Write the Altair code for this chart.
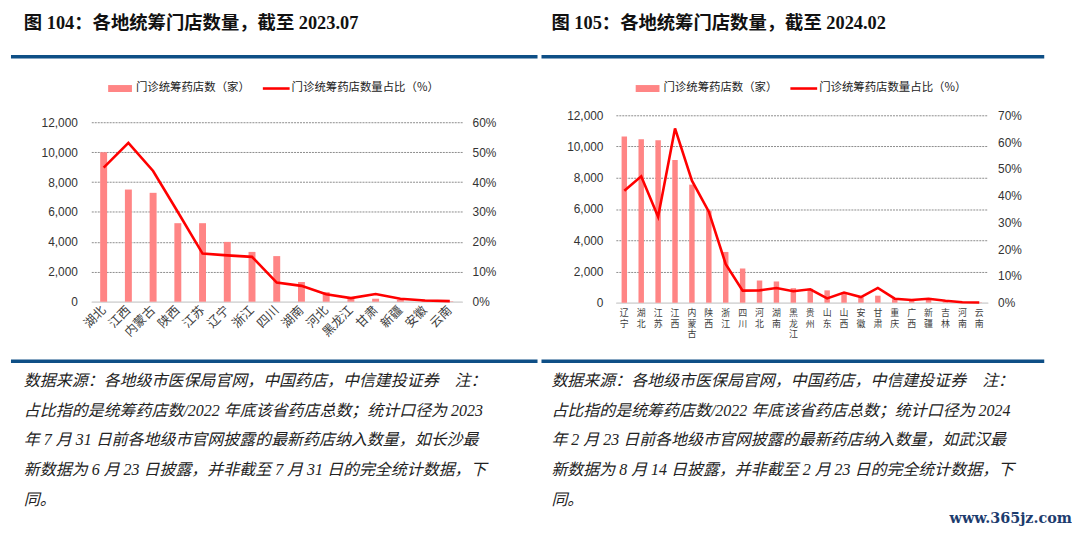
import altair as alt
import pandas as pd

# ---------------- data ----------------
cats1 = ["湖北", "江西", "内蒙古", "陕西", "江苏", "辽宁", "浙江", "四川", "湖南", "河北",
         "黑龙江", "甘肃", "新疆", "安徽", "云南"]
stores1 = [10000, 7500, 7280, 5250, 5250, 4000, 3330, 3050, 1320, 640, 290, 200, 130, 50, 30]
share1 = [0.448, 0.531, 0.437, 0.300, 0.161, 0.155, 0.150, 0.064, 0.053, 0.025, 0.012, 0.026,
          0.010, 0.004, 0.002]

cats2 = ["辽宁", "湖北", "江苏", "江西", "内蒙古", "陕西", "浙江", "四川", "河北", "湖南", "黑龙江",
         "贵州", "山东", "山西", "安徽", "甘肃", "重庆", "广西", "新疆", "吉林", "河南", "云南"]
stores2 = [10640, 10470, 10400, 9130, 7560, 5900, 3250, 2190, 1420, 1360, 930, 890, 790, 680,
           350, 450, 230, 150, 200, 60, 30, 20]
share2 = [0.418, 0.472, 0.321, 0.651, 0.456, 0.340, 0.144, 0.045, 0.046, 0.055, 0.043, 0.050,
          0.016, 0.038, 0.021, 0.055, 0.015, 0.010, 0.015, 0.007, 0.002, 0.001]

left_ticks = [0, 2000, 4000, 6000, 8000, 10000, 12000]
right_ticks1 = [0, 0.1, 0.2, 0.3, 0.4, 0.5, 0.6]
right_ticks2 = [0, 0.1, 0.2, 0.3, 0.4, 0.5, 0.6, 0.7]

title1 = "图 104：各地统筹门店数量，截至 2023.07"
title2 = "图 105：各地统筹门店数量，截至 2024.02"
legend_bar = "门诊统筹药店数（家）"
legend_line = "门诊统筹药店数量占比（%）"

notes1 = [
    "数据来源：各地级市医保局官网，中国药店，中信建投证券　注：",
    "占比指的是统筹药店数/2022 年底该省药店总数；统计口径为 2023",
    "年 7 月 31 日前各地级市官网披露的最新药店纳入数量，如长沙最",
    "新数据为 6 月 23 日披露，并非截至 7 月 31 日的完全统计数据，下",
    "同。",
]
notes2 = [
    "数据来源：各地级市医保局官网，中国药店，中信建投证券　注：",
    "占比指的是统筹药店数/2022 年底该省药店总数；统计口径为 2024",
    "年 2 月 23 日前各地级市官网披露的最新药店纳入数量，如武汉最",
    "新数据为 8 月 14 日披露，并非截至 2 月 23 日的完全统计数据，下",
    "同。",
]
watermark = "www.365jz.com"

# ---------------- styles ----------------
BAR = "#ff8585"
LINE = "#ff0000"
BLUE = "#0e4f86"
SERIF = "Liberation Serif, Noto Sans CJK SC"
SANS = "Liberation Sans, Arial"
CJK = "Noto Sans CJK SC"

one = pd.DataFrame({"k": [0]})


def txt(s, x, y, size, align="left", **kw):
    return alt.Chart(one).mark_text(text=s, fontSize=size, align=align, baseline="middle", **kw).encode(
        x=alt.value(x), y=alt.value(y))


def hrule(x1, x2, y, color, width):
    return alt.Chart(one).mark_rule(color=color, strokeWidth=width).encode(
        x=alt.value(x1), x2=alt.value(x2), y=alt.value(y))


grid_color = {"condition": {"test": "datum.value === 0", "value": "#d9d9d9"}, "value": "#6f6f6f"}
grid_dash = {"condition": {"test": "datum.value === 0", "value": [1, 0]}, "value": [2, 1]}
grid_width = {"condition": {"test": "datum.value === 0", "value": 1.5}, "value": 0.8}

H = 188  # common plot height (both panels share the same plot top)


def panel(cats, stores, share, w, h, ymax, pmax, rticks, title, notes, xaxis, bar_size,
          line_x1, line_x2, leg_x, note_x, lpad, rpad, extra=None):
    df = pd.DataFrame({"cat": cats, "stores": stores, "share": share})
    xenc = alt.X("cat:N", sort=cats, title=None,
                 scale=alt.Scale(paddingInner=0, paddingOuter=0), axis=xaxis)
    bars = alt.Chart(df).mark_bar(color=BAR, size=bar_size).encode(
        x=xenc,
        y=alt.Y("stores:Q", title=None, scale=alt.Scale(domain=[0, ymax]),
                axis=alt.Axis(orient="left", values=left_ticks, format=",.0f", domain=False,
                              ticks=False, labelPadding=lpad, labelFont=SANS, labelFontSize=12,
                              labelColor="#333333", grid=True, gridColor=grid_color,
                              gridDash=grid_dash, gridWidth=grid_width)),
    )
    line = alt.Chart(df).mark_line(color=LINE, strokeWidth=2.6).encode(
        x=xenc,
        y=alt.Y("share:Q", title=None, scale=alt.Scale(domain=[0, pmax]),
                axis=alt.Axis(orient="right", values=rticks, format=".0%", domain=False,
                              ticks=False, grid=False, labelPadding=rpad, labelFont=SANS,
                              labelFontSize=12, labelColor="#333333")),
    )
    layers = [bars, line]
    layers.append(txt(title, -68 if note_x < -66 else note_x, -93, 18.5, font=SERIF,
                      fontWeight="bold", color="#111111"))
    layers.append(hrule(line_x1, line_x2, -59, BLUE, 3.5))
    layers.append(hrule(line_x1, line_x2, 248, BLUE, 3.5))
    # legend
    layers.append(hrule(leg_x, leg_x + 24, -27, BAR, 7))
    layers.append(txt(legend_bar, leg_x + 28, -27, 11.5, font=CJK, color="#222222"))
    layers.append(hrule(leg_x + 156, leg_x + 183, -27, LINE, 2.6))
    layers.append(txt(legend_line, leg_x + 185, -27, 11.5, font=CJK, color="#222222"))
    for i, s in enumerate(notes):
        layers.append(txt(s, note_x, 268 + 30 * i, 16.1, font=SERIF, fontStyle="italic",
                          color="#222222"))
    if extra is not None:
        layers.extend(extra(xenc))
    return alt.layer(*layers).resolve_scale(y="independent").properties(width=w, height=h)


xaxis1 = alt.Axis(labelAngle=-45, labelAlign="right", labelBaseline="middle", labelPadding=6,
                  ticks=False, domain=True, domainColor="#d9d9d9", domainWidth=1.5,
                  labelFont=CJK, labelFontSize=12.5, labelColor="#404040")
xaxis2 = alt.Axis(labels=False, ticks=False, domain=True, domainColor="#d9d9d9", domainWidth=1.5)

p1 = panel(cats1, stores1, share1, 374, H, 12000 * 188 / 181, 0.6 * 188 / 181, right_ticks1,
           title1, notes1, xaxis1, 7, line_x1=-81, line_x2=450, leg_x=17, note_x=-68,
           lpad=14, rpad=10)

# vertical (stacked) category labels for the second panel
chars = pd.DataFrame([{"cat": c, "ch": ch, "row": i} for c in cats2 for i, ch in enumerate(c)])


def extra2(xenc):
    lab = alt.Chart(chars).mark_text(fontSize=9, font=CJK, color="#404040",
                                     baseline="middle", align="center").encode(
        x=xenc,
        y=alt.Y("row:Q", title=None, axis=None,
                scale=alt.Scale(domain=[-18.0909, -0.9091], reverse=True, zero=False, nice=False)),
        text="ch:N",
    )
    wm = txt(watermark, 460, 407, 14.5, align="right", font="DejaVu Serif", fontWeight="bold",
             color="#1d3c6e")
    return [lab, wm]


p2 = panel(cats2, stores2, share2, 375, 189, 12000, 0.7, right_ticks2, title2, notes2, xaxis2,
           5.5, line_x1=-75, line_x2=432, leg_x=20, note_x=-65, lpad=13, rpad=10, extra=extra2)

chart = alt.hconcat(p1, p2, spacing=0).properties(
    padding={"left": 1, "top": 4, "right": 0, "bottom": 0},
    background="white",
).configure_view(stroke=None)

chart.save("out.html", embed_options={"renderer": "svg", "actions": False})
